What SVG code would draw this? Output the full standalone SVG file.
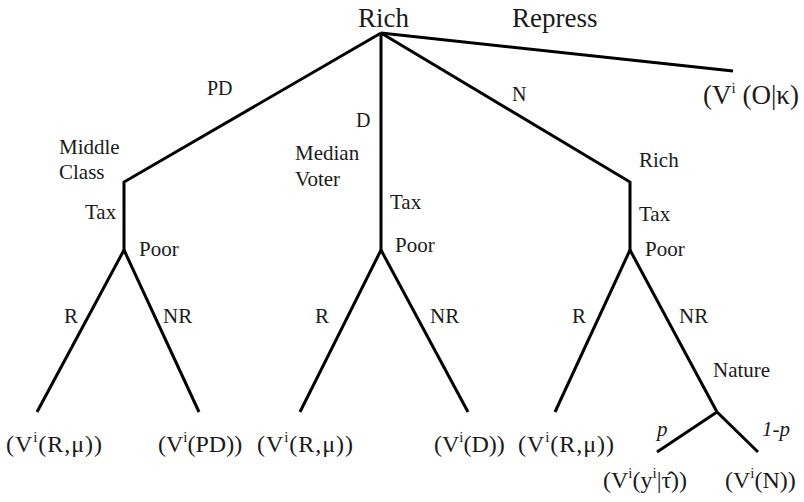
<svg xmlns="http://www.w3.org/2000/svg" width="804" height="502" viewBox="0 0 804 502" font-family="'Liberation Serif', 'DejaVu Serif', serif">
<style>
text{font-family:'Liberation Serif','DejaVu Serif',serif;fill:#1a1a1a}
.lbl{font-size:21px}
.big{font-size:27px}
.el{font-size:20px}
.leaf{font-size:24px}
.leafbig{font-size:27px}
.sup{font-size:15px}
.it{font-style:italic;font-size:21px}
.edge{stroke:#000;stroke-width:3;fill:none;stroke-linecap:butt;stroke-linejoin:miter}
</style>
<rect width="804" height="502" fill="#fff"/>
<g id="connectors">
<polyline class="edge" points="381,33 124,182 124,250"/>
<line class="edge" x1="124" y1="250" x2="37" y2="412"/>
<line class="edge" x1="124" y1="250" x2="199" y2="412"/>
<line class="edge" x1="381" y1="33" x2="381" y2="250"/>
<line class="edge" x1="381" y1="250" x2="300" y2="412"/>
<line class="edge" x1="381" y1="250" x2="468" y2="412"/>
<polyline class="edge" points="381,33 630,182 630,250"/>
<line class="edge" x1="630" y1="250" x2="555" y2="412"/>
<line class="edge" x1="630" y1="250" x2="717" y2="412"/>
<line class="edge" x1="717" y1="412" x2="657" y2="452"/>
<line class="edge" x1="717" y1="412" x2="758" y2="452"/>
<line class="edge" x1="381" y1="33" x2="733" y2="71"/>
</g>
<g id="edge-labels">
<text class="big" x="512" y="27">Repress</text>
<text class="el" x="207" y="95">PD</text>
<text class="el" x="356" y="127">D</text>
<text class="el" x="512" y="101">N</text>
<text class="lbl" x="85" y="219">Tax</text>
<text class="lbl" x="390" y="209">Tax</text>
<text class="lbl" x="639" y="221">Tax</text>
<text class="lbl" x="64" y="323">R</text>
<text class="lbl" x="163" y="323">NR</text>
<text class="lbl" x="315" y="323">R</text>
<text class="lbl" x="430" y="323">NR</text>
<text class="lbl" x="572" y="323">R</text>
<text class="lbl" x="679" y="323">NR</text>
<text class="it" x="657" y="436">p</text>
<text class="it" x="762" y="436">1-p</text>
</g>
<g id="root"><text class="big" x="358" y="27">Rich</text></g>
<g id="middle-class"><text class="lbl" x="59" y="154">Middle</text><text class="lbl" x="59" y="179">Class</text></g>
<g id="median-voter"><text class="lbl" x="295" y="160">Median</text><text class="lbl" x="295" y="186">Voter</text></g>
<g id="rich-n"><text class="lbl" x="639" y="167">Rich</text></g>
<g id="poor-pd"><text class="lbl" x="139" y="256">Poor</text></g>
<g id="poor-d"><text class="lbl" x="395" y="252">Poor</text></g>
<g id="poor-n"><text class="lbl" x="645" y="256">Poor</text></g>
<g id="nature"><text class="lbl" x="713" y="377">Nature</text></g>
<g id="leaf-repress"><text class="leafbig" x="703" y="104">(V<tspan class="sup" font-size="17" dy="-11">i</tspan><tspan dy="11"> (O|κ)</tspan></text></g>
<g id="leaf-pd-r"><text class="leaf" x="6" y="452" textLength="96" lengthAdjust="spacing">(V<tspan class="sup" dy="-10">i</tspan><tspan dy="10">(R,μ))</tspan></text></g>
<g id="leaf-pd-nr"><text class="leaf" x="158" y="452">(V<tspan class="sup" dy="-10">i</tspan><tspan dy="10">(PD))</tspan></text></g>
<g id="leaf-d-r"><text class="leaf" x="257" y="452" textLength="96" lengthAdjust="spacing">(V<tspan class="sup" dy="-10">i</tspan><tspan dy="10">(R,μ))</tspan></text></g>
<g id="leaf-d-nr"><text class="leaf" x="434" y="452">(V<tspan class="sup" dy="-10">i</tspan><tspan dy="10">(D))</tspan></text></g>
<g id="leaf-n-r"><text class="leaf" x="518" y="452" textLength="96" lengthAdjust="spacing">(V<tspan class="sup" dy="-10">i</tspan><tspan dy="10">(R,μ))</tspan></text></g>
<g id="leaf-n-p"><text class="leaf" x="603" y="488">(V<tspan class="sup" dy="-10">i</tspan><tspan dy="10">(y</tspan><tspan class="sup" dy="-10">i</tspan><tspan dy="10">|τ̂))</tspan></text></g>
<g id="leaf-n-1p"><text class="leaf" x="725" y="488">(V<tspan class="sup" dy="-10">i</tspan><tspan dy="10">(N))</tspan></text></g>
</svg>
